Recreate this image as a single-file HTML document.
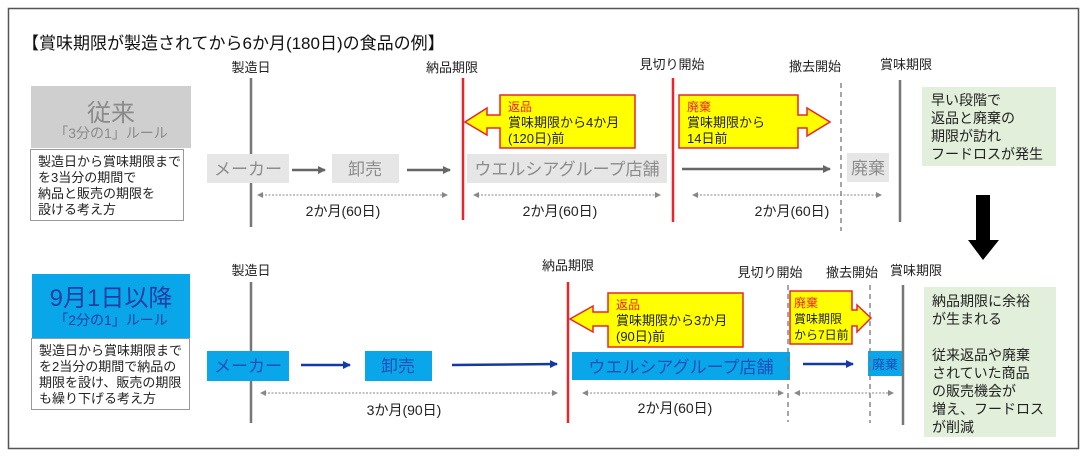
<!DOCTYPE html>
<html><head><meta charset="utf-8"><style>
html,body{margin:0;padding:0;background:#fff;}
svg{display:block;font-family:"Liberation Sans","Noto Sans CJK JP",sans-serif;}
</style></head><body>
<svg width="1089" height="457" viewBox="0 0 1089 457" xmlns="http://www.w3.org/2000/svg">
<defs>
<marker id="ag" markerWidth="8" markerHeight="8" refX="7" refY="4" orient="auto" markerUnits="userSpaceOnUse"><path d="M0,0 L8,4 L0,8 z" fill="#666"/></marker>
<marker id="ab" markerWidth="8" markerHeight="8" refX="7" refY="4" orient="auto" markerUnits="userSpaceOnUse"><path d="M0,0 L8,4 L0,8 z" fill="#1538a8"/></marker>
<marker id="ad" markerWidth="6" markerHeight="6" refX="5" refY="3" orient="auto" markerUnits="userSpaceOnUse"><path d="M0,0 L6,3 L0,6 z" fill="#888"/></marker>
<marker id="ads" markerWidth="6" markerHeight="6" refX="1" refY="3" orient="auto" markerUnits="userSpaceOnUse"><path d="M6,0 L0,3 L6,6 z" fill="#888"/></marker>
</defs>
<rect x="8.5" y="8.5" width="1070" height="440" fill="#fff" stroke="#555" stroke-width="1.5"/>
<text x="22" y="49" font-size="17" fill="#111">【賞味期限が製造されてから6か月(180日)の食品の例】</text>

<!-- TOP -->
<g font-size="13" fill="#222" text-anchor="middle">
<text x="251" y="72">製造日</text>
<text x="452" y="72">納品期限</text>
<text x="672" y="69">見切り開始</text>
<text x="815" y="71">撤去開始</text>
<text x="906" y="69">賞味期限</text>
</g>
<rect x="31" y="86" width="160" height="62" fill="#cfcfcf"/>
<text x="111" y="121" font-size="24" fill="#8a8a8a" text-anchor="middle">従来</text>
<text x="111" y="138" font-size="14" fill="#8a8a8a" text-anchor="middle">「3分の1」ルール</text>
<rect x="30.5" y="149.5" width="153" height="71" fill="#fff" stroke="#999"/>
<g font-size="13" fill="#222"><text x="38" y="166">製造日から賞味期限まで</text><text x="38" y="182">を3当分の期間で</text><text x="38" y="198">納品と販売の期限を</text><text x="38" y="214">設ける考え方</text></g>

<line x1="251" y1="78" x2="251" y2="227" stroke="#777" stroke-width="2.5"/>
<rect x="207" y="154" width="82" height="29" fill="#e6e6e6"/>
<text x="248" y="175" font-size="17" fill="#8c8c8c" text-anchor="middle">メーカー</text>
<line x1="292" y1="170" x2="325" y2="170" stroke="#666" stroke-width="2.5" marker-end="url(#ag)"/>
<rect x="332" y="154" width="67" height="29" fill="#e6e6e6"/>
<text x="365" y="175" font-size="17" fill="#8c8c8c" text-anchor="middle">卸売</text>
<line x1="407" y1="170" x2="450" y2="170" stroke="#666" stroke-width="2.5" marker-end="url(#ag)"/>
<rect x="467" y="154" width="200" height="29" fill="#e6e6e6"/>
<text x="567" y="175" font-size="17" fill="#8c8c8c" text-anchor="middle">ウエルシアグループ店舗</text>
<line x1="682" y1="169" x2="830" y2="169" stroke="#666" stroke-width="2.5" marker-end="url(#ag)"/>
<rect x="847" y="153" width="42" height="29" fill="#e6e6e6"/>
<text x="868" y="174" font-size="17" fill="#8c8c8c" text-anchor="middle">廃棄</text>
<line x1="463" y1="78" x2="463" y2="220" stroke="#e8262b" stroke-width="2.5"/>
<line x1="673" y1="78" x2="673" y2="222" stroke="#e8262b" stroke-width="2.5"/>
<line x1="841" y1="83" x2="841" y2="231" stroke="#777" stroke-width="1.3" stroke-dasharray="5,4"/>
<line x1="900" y1="80" x2="900" y2="222" stroke="#777" stroke-width="2.5"/>
<g stroke="#888" stroke-width="1" stroke-dasharray="2,1.5">
<line x1="258" y1="195" x2="447" y2="195" marker-start="url(#ads)" marker-end="url(#ad)"/>
<line x1="474" y1="195" x2="660" y2="195" marker-start="url(#ads)" marker-end="url(#ad)"/>
<line x1="693" y1="195" x2="881" y2="195" marker-start="url(#ads)" marker-end="url(#ad)"/>
</g>
<g font-size="14" fill="#222" text-anchor="middle"><text x="343" y="216">2か月(60日)</text><text x="560" y="216">2か月(60日)</text><text x="792" y="216">2か月(60日)</text></g>
<path d="M500,95 H635 V148 H500 V128 H487 V135 L465,122 L487,108 V115 H500 Z" fill="#ffff00" stroke="#e8262b" stroke-width="1.5"/>
<text x="508" y="111" font-size="12" fill="#e8262b">返品</text>
<g font-size="13" fill="#222"><text x="508" y="127">賞味期限から4か月</text><text x="508" y="143">(120日)前</text></g>
<path d="M679,95 H798 V115 H807 V108 L830,122 L807,136 V128 H798 V148 H679 Z" fill="#ffff00" stroke="#e8262b" stroke-width="1.5"/>
<text x="687" y="111" font-size="12" fill="#e8262b">廃棄</text>
<g font-size="13" fill="#222"><text x="687" y="127">賞味期限から</text><text x="687" y="143">14日前</text></g>
<rect x="922" y="87" width="134" height="79" fill="#e2efda"/>
<g font-size="14" fill="#222"><text x="931" y="105">早い段階で</text><text x="931" y="123">返品と廃棄の</text><text x="931" y="141">期限が訪れ</text><text x="931" y="159">フードロスが発生</text></g>
<path d="M976,195 H990 V240 H999 L983,260 L968,240 H976 Z" fill="#000"/>

<!-- BOTTOM -->
<g font-size="13" fill="#222" text-anchor="middle">
<text x="251" y="275">製造日</text>
<text x="568" y="270">納品期限</text>
<text x="770" y="277">見切り開始</text>
<text x="852" y="277">撤去開始</text>
<text x="916" y="275">賞味期限</text>
</g>
<rect x="32" y="274" width="158" height="64" fill="#0aa6ea"/>
<text x="111" y="306" font-size="24" fill="#1f3fa3" text-anchor="middle">9月1日以降</text>
<text x="111" y="325" font-size="14" fill="#1f3fa3" text-anchor="middle">「2分の1」ルール</text>
<rect x="31.5" y="338.5" width="158" height="71" fill="#fff" stroke="#999"/>
<g font-size="13" fill="#222"><text x="39" y="355">製造日から賞味期限まで</text><text x="39" y="371">を2当分の期間で納品の</text><text x="39" y="387">期限を設け、販売の期限</text><text x="39" y="403">も繰り下げる考え方</text></g>

<line x1="251" y1="282" x2="251" y2="423" stroke="#777" stroke-width="2.5"/>
<rect x="207" y="351" width="82" height="30" fill="#0aa6ea"/>
<text x="248" y="372" font-size="17" fill="#1f4fb8" text-anchor="middle">メーカー</text>
<line x1="301" y1="365" x2="350" y2="365" stroke="#1538a8" stroke-width="2.5" marker-end="url(#ab)"/>
<rect x="365" y="351" width="67" height="30" fill="#0aa6ea"/>
<text x="398" y="372" font-size="17" fill="#1f4fb8" text-anchor="middle">卸売</text>
<line x1="452" y1="365" x2="557" y2="364" stroke="#1538a8" stroke-width="2.5" marker-end="url(#ab)"/>
<rect x="572" y="352" width="218" height="28" fill="#0aa6ea"/>
<text x="681" y="373" font-size="17" fill="#1f4fb8" text-anchor="middle">ウエルシアグループ店舗</text>
<line x1="803" y1="364" x2="853" y2="364" stroke="#1538a8" stroke-width="2.5" marker-end="url(#ab)"/>
<rect x="868" y="351" width="34" height="25" fill="#0aa6ea"/>
<text x="885" y="369" font-size="13" fill="#1f4fb8" text-anchor="middle">廃棄</text>
<line x1="568" y1="282" x2="568" y2="423" stroke="#e8262b" stroke-width="2.5"/>
<line x1="788" y1="285" x2="788" y2="422" stroke="#777" stroke-width="1.3" stroke-dasharray="5,4"/>
<line x1="870" y1="285" x2="870" y2="423" stroke="#777" stroke-width="1.3" stroke-dasharray="5,4"/>
<line x1="903" y1="285" x2="903" y2="425" stroke="#777" stroke-width="2.5"/>
<g stroke="#888" stroke-width="1" stroke-dasharray="2,1.5">
<line x1="261" y1="393" x2="557" y2="393" marker-start="url(#ads)" marker-end="url(#ad)"/>
<line x1="583" y1="393" x2="783" y2="393" marker-start="url(#ads)" marker-end="url(#ad)"/>
<line x1="795" y1="393" x2="893" y2="393" marker-start="url(#ads)" marker-end="url(#ad)"/>
</g>
<g font-size="14" fill="#222" text-anchor="middle"><text x="404" y="415">3か月(90日)</text><text x="675" y="413">2か月(60日)</text></g>
<path d="M608,293 H743 V347 H608 V326 H593 V332 L570,319 L593,306 V312 H608 Z" fill="#ffff00" stroke="#e8262b" stroke-width="1.5"/>
<text x="616" y="309" font-size="12" fill="#e8262b">返品</text>
<g font-size="13" fill="#222"><text x="616" y="325">賞味期限から3か月</text><text x="616" y="341">(90日)前</text></g>
<path d="M790,291 H852 V310 H857 V305 L871,318 L857,332 V326 H852 V344 H790 Z" fill="#ffff00" stroke="#e8262b" stroke-width="1.5"/>
<text x="794" y="307" font-size="12" fill="#e8262b">廃棄</text>
<g font-size="12" fill="#222"><text x="794" y="323">賞味期限</text><text x="794" y="339">から7日前</text></g>
<rect x="924" y="287" width="132" height="150" fill="#e2efda"/>
<g font-size="14" fill="#222"><text x="932" y="306">納品期限に余裕</text><text x="932" y="324">が生まれる</text><text x="932" y="360">従来返品や廃棄</text><text x="932" y="378">されていた商品</text><text x="932" y="396">の販売機会が</text><text x="932" y="414">増え、フードロス</text><text x="932" y="432">が削減</text></g>
</svg>
</body></html>
